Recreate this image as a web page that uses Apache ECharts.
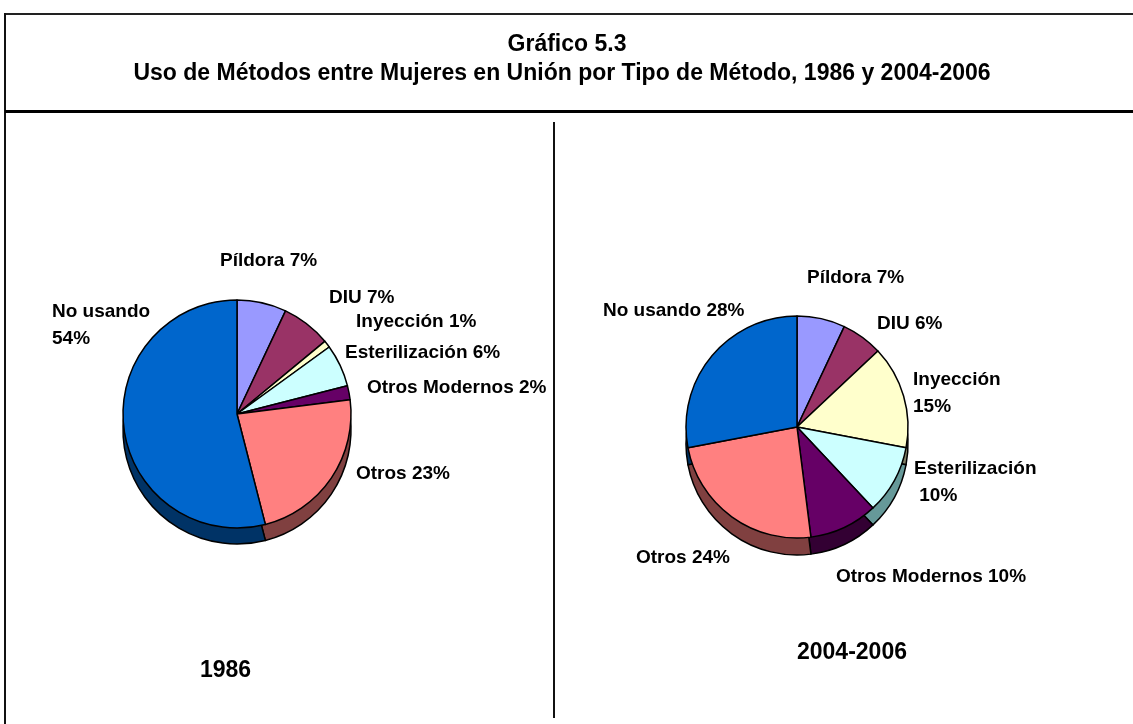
<!DOCTYPE html>
<html>
<head>
<meta charset="utf-8">
<title>Gráfico 5.3</title>
<script src="https://cdn.jsdelivr.net/npm/echarts@6/dist/echarts.min.js"></script>
<style>
  html, body { margin: 0; padding: 0; background: #fff; }
  #main { width: 1133px; height: 724px; }
</style>
</head>
<body>
<div id="main"></div>
<script>
// datos
var metodos = ['Píldora', 'DIU', 'Inyección', 'Esterilización', 'Otros Modernos', 'Otros', 'No usando'];
var valores1986 = [7, 7, 1, 6, 2, 23, 54];
var valores2004 = [7, 6, 15, 10, 10, 24, 28];
var colores = ['#9999FF', '#993366', '#FFFFCC', '#CCFFFF', '#660066', '#FF8080', '#0066CC'];
var coloresLado = ['#4d4d80', '#4d1a33', '#808066', '#669999', '#330033', '#804040', '#003366'];
var saltos1986 = ['No usando'];
var saltos2004 = ['Inyección', 'Esterilización'];

// posiciones de etiquetas (x izquierda, y centro)
var etiq1986 = [[220, 261], [329, 298], [356, 322], [345, 353], [367, 388], [356, 474], [52, 325]];
var etiq2004 = [[807, 278], [877, 324], [913, 393], [914, 482], [836, 577], [636, 558], [603, 311]];

var fuente = '"Liberation Sans", Arial, Helvetica, sans-serif';
var myChart = echarts.init(document.getElementById('main'));

function datos(vals, cols) {
    var arr = [];
    for (var i = 0; i < metodos.length; i++) {
        arr.push({ name: metodos[i], value: vals[i], itemStyle: { color: cols[i] } });
    }
    return arr;
}

function tarta(vals, centro, radio, saltos, etiq) {
    return {
        type: 'pie',
        center: centro,
        radius: radio,
        startAngle: 90,
        clockwise: true,
        animation: false,
        z: 3,
        itemStyle: { borderColor: '#000', borderWidth: 1.5 },
        label: {
            show: true,
            position: 'outside',
            color: '#000',
            fontFamily: fuente,
            fontWeight: 'bold',
            fontSize: 19,
            lineHeight: 27,
            overflow: 'none',
            formatter: function (p) {
                var sep = saltos.indexOf(p.name) >= 0 ? '\n' : ' ';
                if (p.name === 'Esterilización' && sep === '\n') sep = '\n ';
                return p.name + sep + p.value + '%';
            }
        },
        labelLine: { show: false },
        labelLayout: function (p) {
            return { x: etiq[p.dataIndex][0], y: etiq[p.dataIndex][1], align: 'left', verticalAlign: 'middle' };
        },
        data: datos(vals, colores)
    };
}

function lado(vals, centro, radio) {
    return {
        type: 'pie',
        center: centro,
        radius: radio,
        startAngle: 90,
        clockwise: true,
        animation: false,
        silent: true,
        z: 2,
        itemStyle: { borderColor: '#000', borderWidth: 1.5 },
        label: { show: false },
        labelLine: { show: false },
        data: datos(vals, coloresLado)
    };
}

function texto(t, x, y, alinea) {
    return {
        type: 'text', x: x, y: y, z: 10,
        style: { text: t, fill: '#000', font: 'bold 23px ' + fuente, textAlign: alinea, textVerticalAlign: 'middle' }
    };
}

option = {
    backgroundColor: '#fff',
    graphic: [
        { type: 'line', shape: { x1: 5, y1: 14, x2: 1133, y2: 14 }, style: { stroke: '#222', lineWidth: 2 } },
        { type: 'line', shape: { x1: 5, y1: 13, x2: 5, y2: 724 }, style: { stroke: '#111', lineWidth: 2 } },
        { type: 'line', shape: { x1: 5, y1: 111.5, x2: 1133, y2: 111.5 }, style: { stroke: '#000', lineWidth: 3 } },
        { type: 'line', shape: { x1: 554, y1: 122, x2: 554, y2: 718 }, style: { stroke: '#111', lineWidth: 2 } },
        texto('Gráfico 5.3', 567, 45, 'center'),
        texto('Uso de Métodos entre Mujeres en Unión por Tipo de Método, 1986 y 2004-2006', 562, 74, 'center'),
        texto('1986', 200, 671, 'left'),
        texto('2004-2006', 797, 653, 'left')
    ],
    series: [
        lado(valores1986, [237, 430], 114),
        tarta(valores1986, [237, 414], 114, saltos1986, etiq1986),
        lado(valores2004, [797, 444], 111),
        tarta(valores2004, [797, 427], 111, saltos2004, etiq2004)
    ]
};

myChart.setOption(option);
</script>
</body>
</html>
